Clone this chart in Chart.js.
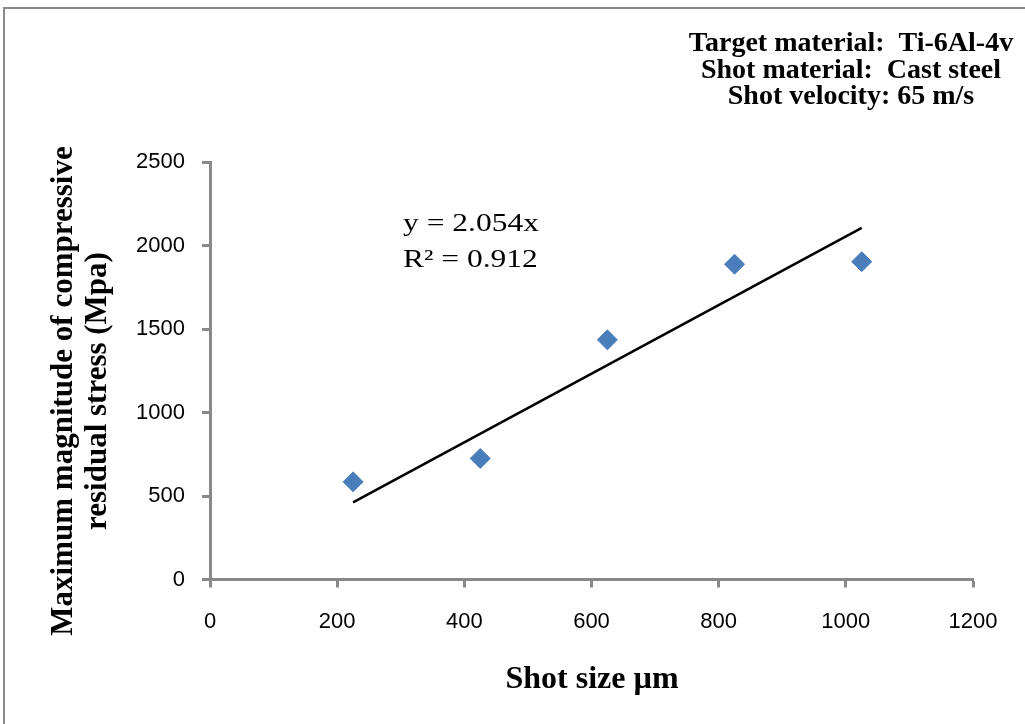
<!DOCTYPE html>
<html>
<head>
<meta charset="utf-8">
<script src="https://cdn.jsdelivr.net/npm/chart.js@4"></script>
<style>
  html, body { margin: 0; padding: 0; background: #fff; }
  #wrap { width: 1025px; height: 724px; }
</style>
</head>
<body>
<div id="wrap"><canvas id="chart" width="1025" height="724"></canvas></div>
<script>
// shot size (µm) vs. max compressive residual stress (MPa)
const shotSize = [225, 425, 625, 825, 1025];
const maxStress = [585, 725, 1435, 1888, 1903];

// linear fit through origin, as reported on the plot
const slope = 2.054;
const rSquared = 0.912;

const xTicks = [0, 200, 400, 600, 800, 1000, 1200];
const yTicks = [0, 500, 1000, 1500, 2000, 2500];

const infoLines = ["Target material:  Ti-6Al-4v", "Shot material:  Cast steel", "Shot velocity: 65 m/s"];
const xTitle = "Shot size µm";
const yTitle = ["Maximum magnitude of compressive", "residual stress (Mpa)"];

const axisGray = "#898989";
const serif = "'Liberation Serif', 'Times New Roman', serif";

const xMin = Math.min(...shotSize);
const xMax = Math.max(...shotSize);
const trend = [
  { x: xMin, y: slope * xMin },
  { x: xMax, y: slope * xMax }
];

function drawStretched(ctx, text, x, y, sx, align) {
  ctx.save();
  ctx.translate(x, y);
  ctx.scale(sx, 1);
  ctx.textAlign = align;
  ctx.fillText(text, 0, 0);
  ctx.restore();
}

const decorations = {
  id: "decorations",
  afterDraw(chart) {
    const ctx = chart.ctx;
    ctx.save();

    // outer frame (open on right and bottom)
    ctx.strokeStyle = axisGray;
    ctx.lineWidth = 2;
    ctx.beginPath();
    ctx.moveTo(4, 724);
    ctx.lineTo(4, 8);
    ctx.lineTo(1025, 8);
    ctx.stroke();

    ctx.fillStyle = "#000";
    ctx.textBaseline = "alphabetic";

    // info block, top right
    ctx.font = "bold 28px " + serif;
    infoLines.forEach((line, i) => {
      drawStretched(ctx, line, 851, 51 + i * 26.5, 1.0, "center");
    });

    // fit equation
    ctx.font = "25px " + serif;
    drawStretched(ctx, "y = " + slope.toFixed(3) + "x", 403, 231, 1.26, "left");
    drawStretched(ctx, "R² = " + rSquared.toFixed(3), 403, 267, 1.26, "left");

    // axis titles
    ctx.font = "bold 32px " + serif;
    drawStretched(ctx, xTitle, 592, 688, 1.0, "center");

    ctx.font = "bold 31px " + serif;
    ctx.textAlign = "center";
    yTitle.forEach((line, i) => {
      ctx.save();
      ctx.translate(72 + i * 34, 391);
      ctx.rotate(-Math.PI / 2);
      ctx.fillText(line, 0, 0);
      ctx.restore();
    });

    ctx.restore();
  }
};

const tickFont = { family: "'Liberation Sans', Arial, sans-serif", size: 22 };
const plainLabel = value => String(value);

new Chart(document.getElementById("chart"), {
  type: "scatter",
  data: {
    datasets: [
      {
        label: "Residual stress",
        data: shotSize.map((x, i) => ({ x, y: maxStress[i] })),
        pointStyle: "rectRot",
        pointRadius: 10,
        pointHoverRadius: 10,
        backgroundColor: "#4A7EBB",
        borderColor: "#4A7EBB",
        borderWidth: 1,
        order: 1
      },
      {
        label: "Linear fit",
        data: trend,
        showLine: true,
        borderColor: "#000",
        borderWidth: 2.5,
        pointRadius: 0,
        order: 2
      }
    ]
  },
  options: {
    responsive: false,
    animation: false,
    devicePixelRatio: 1,
    layout: { padding: { top: 162, right: 52, left: 0, bottom: 0 } },
    plugins: {
      legend: { display: false },
      tooltip: { enabled: false }
    },
    scales: {
      x: {
        type: "linear",
        min: xTicks[0],
        max: xTicks[xTicks.length - 1],
        afterBuildTicks: scale => { scale.ticks = xTicks.map(v => ({ value: v })); },
        afterFit: scale => { scale.height = 144.5; },
        border: { color: axisGray, width: 3 },
        grid: { drawOnChartArea: false, tickLength: 8, tickColor: axisGray, tickWidth: 3 },
        ticks: { color: "#000", font: tickFont, padding: 21, maxRotation: 0, callback: plainLabel }
      },
      y: {
        type: "linear",
        min: yTicks[0],
        max: yTicks[yTicks.length - 1],
        afterBuildTicks: scale => { scale.ticks = yTicks.map(v => ({ value: v })); },
        afterFit: scale => { scale.width = 210; },
        border: { color: axisGray, width: 3 },
        grid: { drawOnChartArea: false, tickLength: 8, tickColor: axisGray, tickWidth: 3 },
        ticks: { color: "#000", font: tickFont, padding: 17, callback: plainLabel }
      }
    }
  },
  plugins: [decorations]
});
</script>
</body>
</html>
